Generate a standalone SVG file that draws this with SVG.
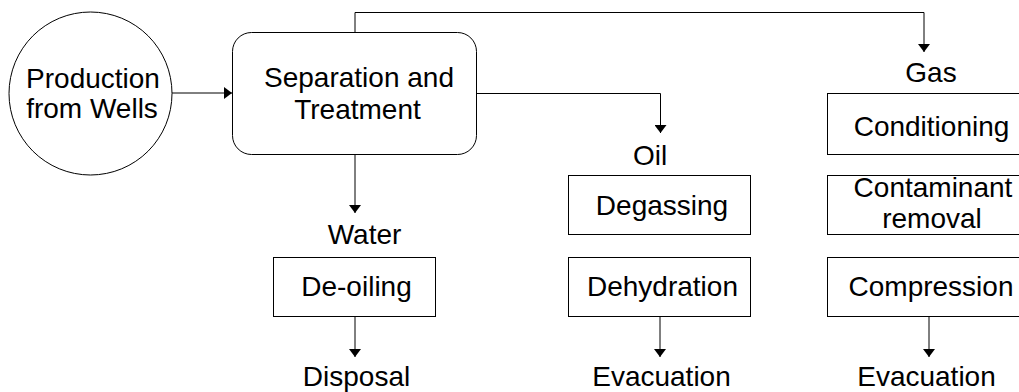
<svg xmlns="http://www.w3.org/2000/svg" width="1019" height="392" viewBox="0 0 1019 392">
<defs>
<marker id="ah" viewBox="0 0 8 12" refX="8" refY="6" markerWidth="8" markerHeight="12" markerUnits="userSpaceOnUse" orient="auto">
<path d="M0,0 L8,6 L0,12 Z" fill="#000"/>
</marker>
<style>
.shape{fill:#fff;stroke:#000;stroke-width:1}
.line{fill:none;stroke:#000;stroke-width:1}
text{font-family:"Liberation Sans",Arial,sans-serif;font-size:28px;fill:#000;text-anchor:middle}
</style>
</defs>
<rect width="1019" height="392" fill="#fff"/>
<g id="connectors">
<path class="line" d="M172,93 H232" marker-end="url(#ah)"/>
<path class="line" d="M355,32 V12.5 H924 V52" marker-end="url(#ah)"/>
<path class="line" d="M477,93.5 H660.5 V133" marker-end="url(#ah)"/>
<path class="line" d="M355,155 V213" marker-end="url(#ah)"/>
<path class="line" d="M355,317 V357" marker-end="url(#ah)"/>
<path class="line" d="M660,317 V357" marker-end="url(#ah)"/>
<path class="line" d="M929,317 V357" marker-end="url(#ah)"/>
</g>
<g id="production">
<circle class="shape" cx="90.5" cy="93.5" r="81.5"/>
<text x="93" y="88">Production</text>
<text x="92" y="118">from Wells</text>
</g>
<g id="separation">
<rect class="shape" x="232.5" y="32.5" width="244" height="122" rx="19" ry="19"/>
<text x="359" y="87">Separation and</text>
<text x="357.5" y="119">Treatment</text>
</g>
<g id="water-label"><text x="364.5" y="244">Water</text></g>
<g id="deoiling">
<rect class="shape" x="273.5" y="257.5" width="162" height="59"/>
<text x="356.5" y="296">De-oiling</text>
</g>
<g id="disposal"><text x="356.5" y="386">Disposal</text></g>
<g id="oil-label"><text x="650" y="165">Oil</text></g>
<g id="degassing">
<rect class="shape" x="568.5" y="175.5" width="182" height="59"/>
<text x="662" y="215">Degassing</text>
</g>
<g id="dehydration">
<rect class="shape" x="568.5" y="257.5" width="182" height="59"/>
<text x="662.5" y="296">Dehydration</text>
</g>
<g id="oil-evacuation"><text x="661.5" y="386">Evacuation</text></g>
<g id="gas-label"><text x="931" y="82">Gas</text></g>
<g id="conditioning">
<rect class="shape" x="827.5" y="93.5" width="200" height="61"/>
<text x="931.5" y="136">Conditioning</text>
</g>
<g id="contaminant">
<rect class="shape" x="827.5" y="175.5" width="200" height="59"/>
<text x="933" y="197">Contaminant</text>
<text x="932" y="228">removal</text>
</g>
<g id="compression">
<rect class="shape" x="827.5" y="257.5" width="200" height="59"/>
<text x="931" y="296">Compression</text>
</g>
<g id="gas-evacuation"><text x="926.5" y="386">Evacuation</text></g>
</svg>
